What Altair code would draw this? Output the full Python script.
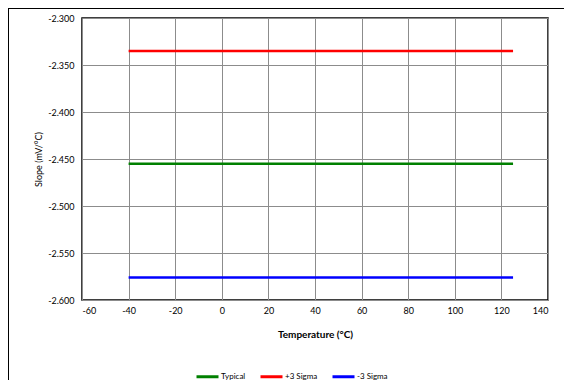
import altair as alt
import pandas as pd

temps = [-40, 25, 125]
typical = [-2.455, -2.455, -2.455]
plus3 = [-2.335, -2.335, -2.335]
minus3 = [-2.576, -2.576, -2.576]
series_names = ["Typical", "+3 Sigma", "-3 Sigma"]
series_colors = ["#008000", "#FF0000", "#0000FF"]
x_ticks = [-60, -40, -20, 0, 20, 40, 60, 80, 100, 120, 140]
y_ticks = [-2.600, -2.550, -2.500, -2.450, -2.400, -2.350, -2.300]

rows = []
for name, vals in zip(series_names, [typical, plus3, minus3]):
    for t, v in zip(temps, vals):
        rows.append({"Temperature": t, "Value": v, "Series": name})
df = pd.DataFrame(rows)

FONT = "Lato"
FIX_MINUS = "replace(datum.label, '\u2212', '-')"

lines = alt.Chart(df).mark_line(strokeWidth=2.5).encode(
    x=alt.X("Temperature:Q",
            scale=alt.Scale(domain=[-60, 140], nice=False),
            axis=alt.Axis(values=x_ticks, title="Temperature (°C)", ticks=False,
                          labelExpr=FIX_MINUS,
                          labelFontSize=9, labelPadding=6, titleFontSize=10,
                          titleFontWeight="bold", titlePadding=14,
                          gridColor="#8c8c8c", gridWidth=1, domain=False,
                          labelColor="#000", titleColor="#000")),
    y=alt.Y("Value:Q",
            scale=alt.Scale(domain=[-2.6, -2.3], nice=False, zero=False),
            axis=alt.Axis(values=y_ticks, format=".3f", title="Slope (mV/°C)", ticks=False,
                          labelExpr=FIX_MINUS,
                          labelFontSize=9, labelPadding=8, titleFontSize=9,
                          titleFontWeight="normal", titlePadding=4,
                          gridColor="#8c8c8c", gridWidth=1, domain=False,
                          labelColor="#000", titleColor="#000")),
    color=alt.Color("Series:N",
                    scale=alt.Scale(domain=series_names, range=series_colors),
                    sort=series_names,
                    legend=alt.Legend(orient="none", legendX=113, legendY=346,
                                      direction="horizontal", title=None,
                                      symbolType="stroke", symbolStrokeWidth=3,
                                      symbolSize=484, labelFontSize=8,
                                      labelOffset=1, columnPadding=8,
                                      labelColor="#000")),
)

frame_left = alt.Chart(df).mark_rule(color="black", strokeWidth=3).encode(
    x=alt.value(-75), y=alt.value(-11), y2=alt.value(372))
frame_top = alt.Chart(df).mark_rule(color="black", strokeWidth=2).encode(
    x=alt.value(-76), x2=alt.value(490), y=alt.value(-10))

chart = alt.layer(frame_left, frame_top, lines).properties(
    width=466, height=282,
    autosize=alt.AutoSizeParams(type="none"),
    padding={"left": 74, "top": 10, "right": 16, "bottom": 80},
).configure(font=FONT).configure_view(stroke="black", strokeWidth=1.5)

chart.save("out.html", embed_options={"renderer": "svg", "actions": False})
